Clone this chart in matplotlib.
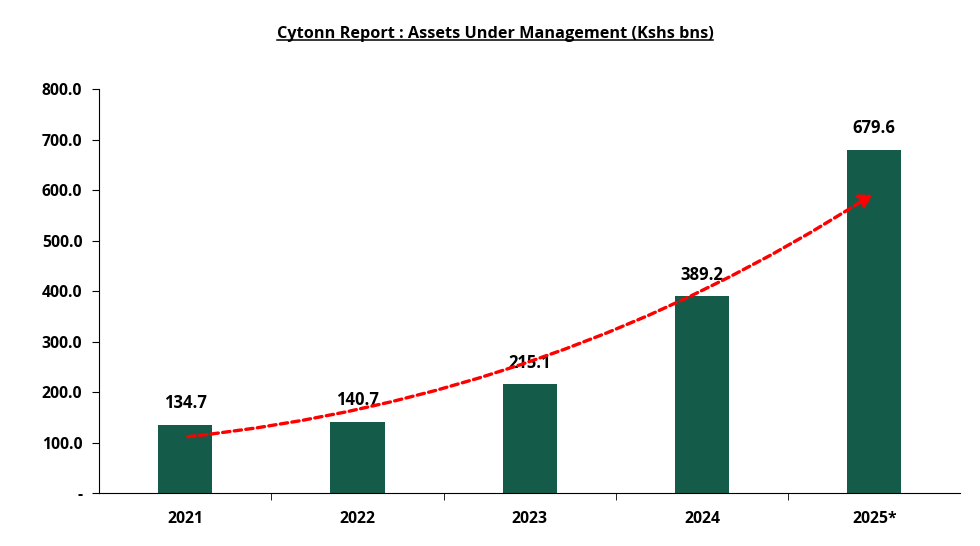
import matplotlib.pyplot as plt
from matplotlib.patches import FancyArrowPatch
from matplotlib.ticker import FixedLocator

years = ["2021", "2022", "2023", "2024", "2025*"]
aum = [134.7, 140.7, 215.1, 389.2, 679.6]
trend_start = 111
trend_end = 594
yticks = [0, 100, 200, 300, 400, 500, 600, 700, 800]

plt.rcParams['font.family'] = ['Open Sans', 'DejaVu Sans']

fig = plt.figure(figsize=(9.8, 5.46), dpi=100)
ax = fig.add_axes([0.101, 0.097, 0.879, 0.74])

x = list(range(len(years)))
ax.bar(x, aum, width=0.315, color="#155B4A", zorder=2)

for xi, v in zip(x, aum):
    ax.text(xi, v + 25, f"{v:.1f}", ha="center", va="bottom",
            fontsize=12, fontweight="bold")

# trend arrow
arrow = FancyArrowPatch((x[0], trend_start), (x[-1], trend_end),
                        connectionstyle="arc3,rad=0.12",
                        arrowstyle="-|>,head_length=7,head_width=4.5",
                        color="red", lw=2.4, linestyle=(0, (2.2, 1.3)),
                        zorder=3)
ax.add_patch(arrow)

ax.set_xlim(-0.5, len(years) - 0.5)
ax.set_ylim(0, 800)
ax.set_xticks(x)
ax.set_xticklabels(years, fontsize=11.3, fontweight="bold")
ax.tick_params(axis="x", which="major", length=0, pad=13)
ax.xaxis.set_minor_locator(FixedLocator([i + 0.5 for i in range(len(years) - 1)]))
ax.tick_params(axis="x", which="minor", length=5, direction="out")

ax.set_yticks(yticks)
ax.set_yticklabels(["-" if t == 0 else f"{t:.1f}" for t in yticks],
                   fontsize=11.3, fontweight="bold")
ax.tick_params(axis="y", length=5, direction="out", pad=7)

for s in ["top", "right"]:
    ax.spines[s].set_visible(False)

title = fig.text(0.505, 0.937, "Cytonn Report : Assets Under Management (Kshs bns)",
                 ha="center", va="center", fontsize=11.7, fontweight="bold")
# underline under the title text
fig.canvas.draw()
bb = title.get_window_extent().transformed(fig.transFigure.inverted())
fig.add_artist(plt.Line2D([bb.x0, bb.x1], [bb.y0 + 0.004, bb.y0 + 0.004],
                          color="black", lw=1.1))

fig.savefig("out.png", dpi=100)
